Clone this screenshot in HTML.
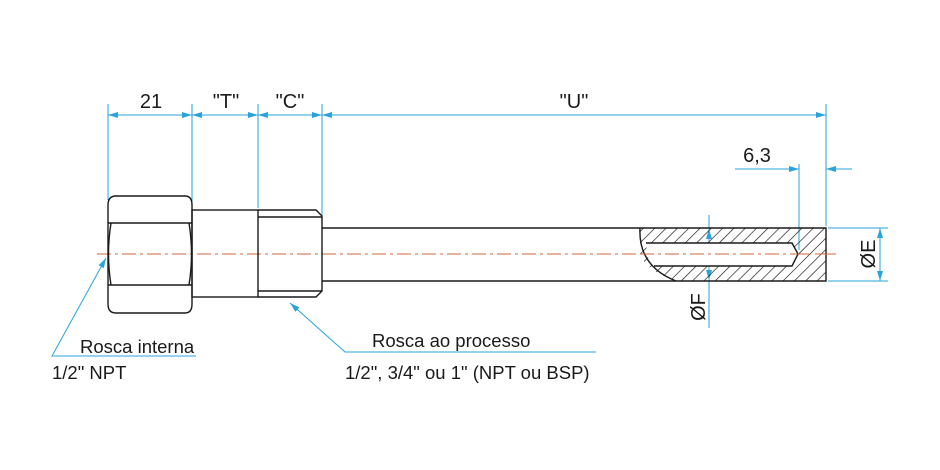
<!DOCTYPE html>
<html><head><meta charset="utf-8"><style>
html,body{margin:0;padding:0;background:#fff}
svg{display:block}
text{font-family:"Liberation Sans",sans-serif;fill:#1a1a1a}
</style></head><body>
<svg width="940" height="470" viewBox="0 0 940 470" xmlns="http://www.w3.org/2000/svg">
<defs>
<marker id="a" viewBox="0 0 10 6" refX="10" refY="3" markerWidth="10" markerHeight="6" markerUnits="userSpaceOnUse" orient="auto-start-reverse"><path d="M0,0L10,3L0,6z" fill="#29a3dc"/></marker>
<pattern id="h" width="8" height="8" patternUnits="userSpaceOnUse" patternTransform="rotate(45)"><line x1="0" y1="0" x2="0" y2="8" stroke="#111" stroke-width="1.3"/></pattern>
</defs>
<g stroke="#29a3dc" stroke-width="1" fill="none">
<line x1="108" y1="104" x2="108" y2="200"/>
<line x1="192" y1="104" x2="192" y2="208"/>
<line x1="258" y1="104" x2="258" y2="208"/>
<line x1="322" y1="104" x2="322" y2="215"/>
<line x1="826" y1="104" x2="826" y2="226"/>
<line x1="108" y1="115" x2="192" y2="115" marker-start="url(#a)" marker-end="url(#a)"/>
<line x1="192" y1="115" x2="258" y2="115" marker-start="url(#a)" marker-end="url(#a)"/>
<line x1="258" y1="115" x2="322" y2="115" marker-start="url(#a)" marker-end="url(#a)"/>
<line x1="322" y1="115" x2="826" y2="115" marker-start="url(#a)" marker-end="url(#a)"/>
<line x1="799" y1="164" x2="799" y2="250"/>
<line x1="735" y1="169" x2="799" y2="169" marker-end="url(#a)"/>
<line x1="852" y1="169" x2="826" y2="169" marker-end="url(#a)"/>
<line x1="828" y1="228" x2="888" y2="228"/>
<line x1="828" y1="281" x2="888" y2="281"/>
<line x1="880" y1="228" x2="880" y2="281" marker-start="url(#a)" marker-end="url(#a)"/>
<line x1="709" y1="215" x2="709" y2="328"/>
<line x1="709" y1="243" x2="709" y2="229" marker-end="url(#a)"/>
<line x1="709" y1="266" x2="709" y2="280" marker-end="url(#a)"/>
<polyline points="196,356 52,356 106,258" marker-end="url(#a)"/>
<polyline points="596,352 345,352 290,303" marker-end="url(#a)"/>
</g>
<line x1="97" y1="254" x2="836" y2="254" stroke="#d0643c" stroke-width="1" stroke-dasharray="14,4,3,4"/>
<g stroke="#1a1a1a" stroke-width="1.4" fill="none">
<path d="M116,196 H185 Q192,196 192,205 V304 Q192,313 185,313 H116 Q108,313 108,304 V205 Q108,196 116,196 Z"/>
<path d="M108,223 H192 M108,285 H192"/>
<path d="M111,223 Q106,254 111,285 M189,223 Q194,254 189,285"/>
<rect x="192" y="210" width="66" height="87"/>
<path d="M258,210 H316 L322,216 V291 L316,297 H258"/>
<path d="M258,217 H322 M258,291 H322"/>
<path d="M322,228 H826 V281 H322"/>
</g>
<path d="M640,228 H826 V281 H676 Q645,270 640,254 Z" fill="url(#h)" stroke="none"/>
<path d="M647,243 H792 L798,254 L792,266 H653 Q645,256 647,243 Z" fill="#fff"/>
<g stroke="#1a1a1a" stroke-width="1.4" fill="none">
<path d="M640,228 Q638,266 676,281"/>
<path d="M646,243 H792 L798,254 L792,266 H654"/>
</g>
<line x1="640" y1="254" x2="836" y2="254" stroke="#d0643c" stroke-width="1" stroke-dasharray="14,4,3,4"/>
<g font-size="20" text-anchor="middle">
<text x="151" y="108">21</text>
<text x="226" y="108">"T"</text>
<text x="290" y="108">"C"</text>
<text x="574" y="108">"U"</text>
<text x="757" y="162">6,3</text>
<text transform="translate(875,254) rotate(-90)">ØE</text>
<text transform="translate(705,307) rotate(-90)">ØF</text>
</g>
<g font-size="18.5">
<text x="80" y="353">Rosca interna</text>
<text x="52" y="379">1/2" NPT</text>
<text x="372" y="347">Rosca ao processo</text>
<text x="345" y="379">1/2", 3/4" ou 1" (NPT ou BSP)</text>
</g>
</svg>
</body></html>
